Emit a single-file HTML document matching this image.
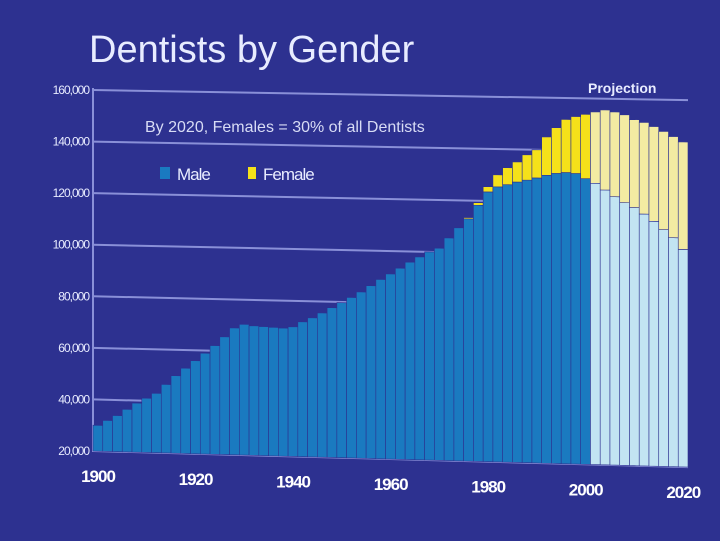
<!DOCTYPE html>
<html><head><meta charset="utf-8"><style>
html,body{margin:0;padding:0;background:#2d3190;}
svg{display:block;font-family:"Liberation Sans",sans-serif;}
</style></head><body>
<svg width="720" height="541" viewBox="0 0 720 541">
<rect x="0" y="0" width="720" height="541" fill="#2d3190"/>
<text x="89" y="62" font-size="38" fill="#e8ecff">Dentists by Gender</text>
<g id="grid"></g>
<g id="bars"></g>
<g id="labels"></g>
<text x="145" y="132" font-size="16" fill="#d8dcf5">By 2020, Females = 30% of all Dentists</text>
<rect x="160" y="167" width="10" height="12" fill="#1a7ac0"/>
<text x="177" y="180" font-size="17" fill="#e8ecff" letter-spacing="-1">Male</text>
<rect x="248" y="167" width="8" height="12" fill="#f5e11a"/>
<text x="263" y="180" font-size="17" fill="#e8ecff" letter-spacing="-1">Female</text>
<text x="588" y="93" font-size="14" font-weight="bold" fill="#e8ecff">Projection</text>
</svg>
<script>
const years=[1900,1902,1904,1906,1908,1910,1912,1914,1916,1918,1920,1922,1924,1926,1928,1930,1932,1934,1936,1938,1940,1942,1944,1946,1948,1950,1952,1954,1956,1958,1960,1962,1964,1966,1968,1970,1972,1974,1976,1978,1980,1982,1984,1986,1988,1990,1992,1994,1996,1998,2000,2002,2004,2006,2008,2010,2012,2014,2016,2018,2020];
const male=[30,32,34,36.5,39,41,43,46.5,50,53,56,59,62,65.5,69,70.5,70,69.8,69.6,69.4,70,72,73.6,75.6,77.7,79.7,81.8,84,86.5,89,91.2,93.5,95.9,98,100,101.5,105.5,109.5,113,118.3,123.5,125.5,126.4,127.5,128.3,129.2,130.3,131.1,131.5,131.2,129.3,127.6,125.1,122.6,120.4,118.6,116.2,113.5,110.4,107.4,103];
const female=[0,0,0,0,0,0,0,0,0,0,0,0,0,0,0,0,0,0,0,0,0,0,0,0,0,0,0,0,0,0,0,0,0,0,0,0,0,0,0.5,1,2,4.6,6.5,7.7,9.7,10.8,14.7,17.5,20.3,21.8,24.6,27.3,30.6,32.4,33.6,33.6,35,36.2,37.5,38.6,41];
const yTicks=[20000,40000,60000,80000,100000,120000,140000,160000];
const xTickYears=[1900,1920,1940,1960,1980,2000,2020];
const projStart=2002;
const NS="http://www.w3.org/2000/svg";
const L=93,R=688,bw=(R-L)/years.length;
function base(x){return 451+(x-L)*0.027;}
function top_(x){return 90+(x-L)*0.017;}
function Y(x,v){const b=base(x);return b-(v-20)/140*(b-top_(x));}
function X(yr){return L+(yr-1900)/2*bw;}
function mk(tag,attrs,parent){const e=document.createElementNS(NS,tag);for(const k in attrs)e.setAttribute(k,attrs[k]);document.getElementById(parent).appendChild(e);return e;}
yTicks.forEach(t=>{const v=t/1000;
 const ln=mk('line',{x1:L,y1:Y(L,v),x2:R,y2:Y(R,v),stroke:'#8a90d8','stroke-width':2},'grid');
 
 
 const tx=mk('text',{x:L-4,y:Y(L,v)+4,'text-anchor':'end','font-size':12,fill:'#e8ecff','letter-spacing':'-1'},'labels');
 tx.textContent=t.toLocaleString('en-US');
 
 
});
const ax=mk('line',{x1:L,y1:88,x2:L,y2:452,stroke:'#8a90d8','stroke-width':2},'grid');


function poly(x0,x1,v0,v1,fill,name){
 const p=mk('polygon',{points:`${x0},${Y(x0,v0)} ${x1},${Y(x1,v0)} ${x1},${Y(x1,v1)} ${x0},${Y(x0,v1)}`,fill:fill,stroke:'#2d3190','stroke-width':0.6},'bars');
 
 
}
years.forEach((yr,i)=>{
 const x0=X(yr),x1=x0+bw,proj=yr>=projStart;
 poly(x0,x1,20,male[i],proj?'#c2e4f2':'#1a7ac0','bar-male');
 if(female[i]>0)poly(x0,x1,male[i],male[i]+female[i],proj?'#f3eba2':'#f5e11a','bar-female');
});
xTickYears.forEach(yr=>{const x=X(yr)+5;
 const tx=mk('text',{x:x,y:base(x)+31,'text-anchor':'middle','font-size':17,'font-weight':'bold',fill:'#ffffff','letter-spacing':'-1'},'labels');
 tx.textContent=yr;
 
 
});
</script>
</body></html>
